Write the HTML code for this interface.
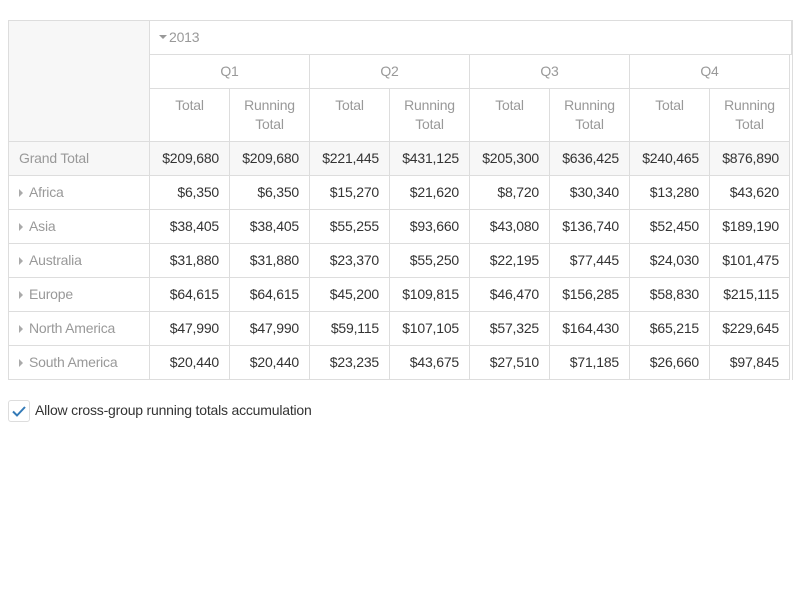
<!DOCTYPE html>
<html><head><meta charset="utf-8"><style>
body{margin:0;width:800px;height:600px;background:#fff;font-family:"Liberation Sans",sans-serif;font-size:14px;position:relative;overflow:hidden}
.c{position:absolute;box-sizing:border-box;border-right:1px solid #ddd;border-bottom:1px solid #ddd;padding:0 10px;white-space:nowrap;letter-spacing:-0.2px}
.h{color:#999;text-align:center}
.n{color:#333;text-align:right}
.l{color:#999;text-align:left}
.arr{display:inline-block;width:0;height:0;border-top:4px solid transparent;border-bottom:4px solid transparent;border-left:4px solid #aaa;margin-right:6px;vertical-align:0px}
</style></head><body>
<div id="grid" style="position:absolute;left:8px;top:20px;width:784px;height:360px;border-top:1px solid #ddd;border-left:1px solid #ddd;box-sizing:border-box"></div>
<div style="position:absolute;left:8px;top:400px;width:22px;height:22px;box-sizing:border-box;border:1px solid #ddd;border-radius:3px">
<svg width="20" height="20" style="position:absolute;left:0;top:0"><path d="M4 10.5 L8 14.5 L16 6" fill="none" stroke="#337ab7" stroke-width="2"/></svg></div>
<div style="position:absolute;left:35px;top:402px;color:#333;font-size:14px;letter-spacing:-0.2px">Allow cross-group running totals accumulation</div>
<script>
const quarters=["Q1","Q2","Q3","Q4"];
const regions=["Africa","Asia","Australia","Europe","North America","South America"];
const grandTotal=[209680,209680,221445,431125,205300,636425,240465,876890];
const values=[
[6350,6350,15270,21620,8720,30340,13280,43620],
[38405,38405,55255,93660,43080,136740,52450,189190],
[31880,31880,23370,55250,22195,77445,24030,101475],
[64615,64615,45200,109815,46470,156285,58830,215115],
[47990,47990,59115,107105,57325,164430,65215,229645],
[20440,20440,23235,43675,27510,71185,26660,97845]];
const g=document.getElementById('grid');
function cell(x,y,w,h,cls,html,name,bg,pt){
 const d=document.createElement('div');
 d.className='c '+cls;
 d.style.left=x+'px';d.style.top=y+'px';d.style.width=w+'px';d.style.height=h+'px';
 if(bg)d.style.background=bg;
 d.style.paddingTop=(pt||7)+'px';d.style.lineHeight='19px';
 d.innerHTML=html;
 
 
 g.appendChild(d);return d;
}
const fmt=v=>'$'+v.toLocaleString('en-US');
cell(0,0,141,121,'l','','corner-cell','#f7f7f7');
const y=cell(141,0,642,34,'l','<span style="display:inline-block;border-left:4px solid transparent;border-right:4px solid transparent;border-top:4px solid #999;vertical-align:3px;margin-right:2px"></span>2013','year-header');
y.style.paddingLeft='9px';
quarters.forEach((q,i)=>{
 cell(141+i*160,34,160,34,'h',q,'quarter-header-'+q.toLowerCase());
 cell(141+i*160,68,80,53,'h','Total','total-header-'+q.toLowerCase());
 cell(221+i*160,68,80,53,'h','Running<br>Total','running-total-header-'+q.toLowerCase());
});
cell(0,121,141,34,'l','Grand Total','grand-total-label','#f7f7f7');
grandTotal.forEach((v,j)=>cell(141+j*80,121,80,34,'n',fmt(v),'grand-total-value','#f7f7f7'));
regions.forEach((r,i)=>{
 const yy=155+i*34;
 const c=cell(0,yy,141,34,'l','<span class="arr"></span>'+r,'row-'+r.toLowerCase().replace(/ /g,'-'));
 
 values[i].forEach((v,j)=>cell(141+j*80,yy,80,34,'n',fmt(v),'value-cell'));
});
const e=document.createElement('div');
e.style.cssText='position:absolute;left:781px;top:-1px;width:3px;height:360px;border-right:1px solid #ddd;box-sizing:border-box';


g.appendChild(e);
</script>
</body></html>
